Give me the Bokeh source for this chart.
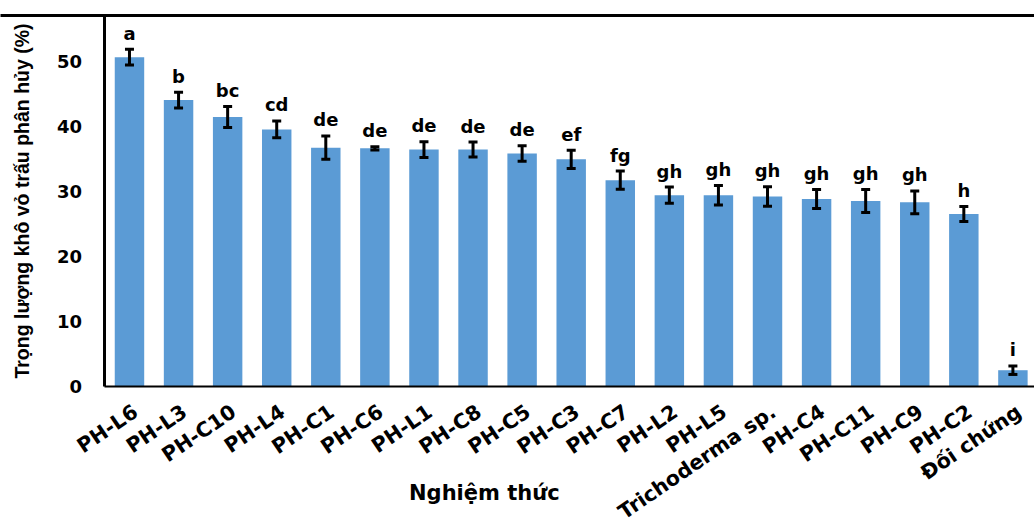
from bokeh.plotting import figure
from bokeh.models import (ColumnDataSource, Range1d, LinearAxis, FixedTicker,
                          Whisker, TeeHead, Label)
from bokeh.core.properties import value
from bokeh.embed import file_html
from bokeh.resources import INLINE

# Treatments, mean decomposed dry weight of rice husk (%), standard errors and
# significance letters
categories = ["PH-L6", "PH-L3", "PH-C10", "PH-L4", "PH-C1", "PH-C6", "PH-L1",
              "PH-C8", "PH-C5", "PH-C3", "PH-C7", "PH-L2", "PH-L5",
              "Trichoderma sp.", "PH-C4", "PH-C11", "PH-C9", "PH-C2", "Đối chứng"]
means = [50.6, 44.0, 41.4, 39.5, 36.7, 36.6, 36.4, 36.4, 35.8, 34.9, 31.7,
         29.4, 29.4, 29.2, 28.8, 28.5, 28.3, 26.5, 2.5]
errors = [1.2, 1.2, 1.6, 1.3, 1.8, 0.25, 1.2, 1.15, 1.2, 1.4, 1.4,
          1.25, 1.5, 1.5, 1.45, 1.75, 1.75, 1.15, 0.65]
letters = ["a", "b", "bc", "cd", "de", "de", "de", "de", "de", "ef", "fg",
           "gh", "gh", "gh", "gh", "gh", "gh", "h", "i"]
y_ticks = [0, 10, 20, 30, 40, 50]
Y_MAX = 57

idx = list(range(len(categories)))
src = ColumnDataSource(dict(
    x=idx, top=means, base=[0] * len(idx), name=categories,
    upper=[m + e for m, e in zip(means, errors)],
    lower=[m - e for m, e in zip(means, errors)],
    letter=letters,
))

BOLD_WIDE = "DejaVu Sans"
BOLD_NARROW = "Liberation Sans"

# The data area spans the whole canvas below the top border; the axes are
# pinned at x=-0.5 and y=0 so that slanted names and titles have room.
p = figure(width=1034, height=523, output_backend="svg", toolbar_location=None,
           x_range=Range1d(-2.628, 18.44), y_range=Range1d(-21.05, Y_MAX),
           x_axis_type=None, y_axis_type=None,
           min_border_left=0, min_border_right=0,
           min_border_top=15, min_border_bottom=0)
p.outline_line_color = None
p.xgrid.visible = False
p.ygrid.visible = False
p.background_fill_color = "white"
p.border_fill_color = "white"

# bars
p.vbar(x="x", top="top", width=0.6, bottom=0, source=src,
       fill_color="#5B9BD5", line_color=None)

# error bars
head = dict(size=9, line_width=3, line_color="black")
p.add_layout(Whisker(base="x", upper="upper", lower="lower", source=src,
                     line_width=3, line_color="black", level="annotation",
                     upper_head=TeeHead(**head), lower_head=TeeHead(**head)))

# significance letters
p.text(x="x", y="upper", text="letter", source=src,
       text_align="center", text_baseline="alphabetic", y_offset=-16,
       text_font=value(BOLD_WIDE), text_font_style="bold",
       text_font_size="18px", text_color="black")

# slanted treatment names under the bars
p.text(x="x", y="base", text="name", source=src, angle=0.6,
       text_align="right", text_baseline="middle", x_offset=6, y_offset=23,
       text_font=value(BOLD_WIDE), text_font_style="bold",
       text_font_size="20.5px", text_color="black")

# y axis: line, ticks, values and title
yax = LinearAxis(ticker=FixedTicker(ticks=y_ticks), fixed_location=-0.5,
                 bounds=(0, Y_MAX),
                 axis_label="Trọng lượng khô vỏ trấu phân hủy (%)")
yax.axis_line_width = 3
yax.major_tick_out = 0
yax.major_tick_in = 0
yax.minor_tick_out = 0
yax.minor_tick_in = 0
yax.major_label_standoff = 23
yax.major_label_text_font = BOLD_WIDE
yax.major_label_text_font_style = "bold"
yax.major_label_text_font_size = "18px"
yax.major_label_text_color = "black"
yax.axis_label_standoff = 20
yax.axis_label_text_font = BOLD_NARROW
yax.axis_label_text_font_style = "bold"
yax.axis_label_text_font_size = "19.5px"
yax.axis_label_text_color = "black"
p.add_layout(yax, "left")

# x axis line
xax = LinearAxis(ticker=FixedTicker(ticks=[]), fixed_location=0,
                 bounds=(-0.5, 18.44))
xax.axis_line_width = 2
xax.major_tick_out = 0
xax.major_tick_in = 0
xax.minor_tick_out = 0
xax.minor_tick_in = 0
p.add_layout(xax, "below")

# x axis title
p.add_layout(Label(x=7.23, y=-16.3, text="Nghiệm thức", text_align="center",
                   text_baseline="middle", text_font=BOLD_WIDE,
                   text_font_style="bold", text_font_size="21px",
                   text_color="black"))

# top border of the plot area
top = LinearAxis(ticker=FixedTicker(ticks=[]))
top.axis_line_width = 3
top.major_tick_out = 0
top.major_tick_in = 0
top.minor_tick_out = 0
top.minor_tick_in = 0
p.add_layout(top, "above")

open("out.html", "w").write(file_html(p, INLINE))
